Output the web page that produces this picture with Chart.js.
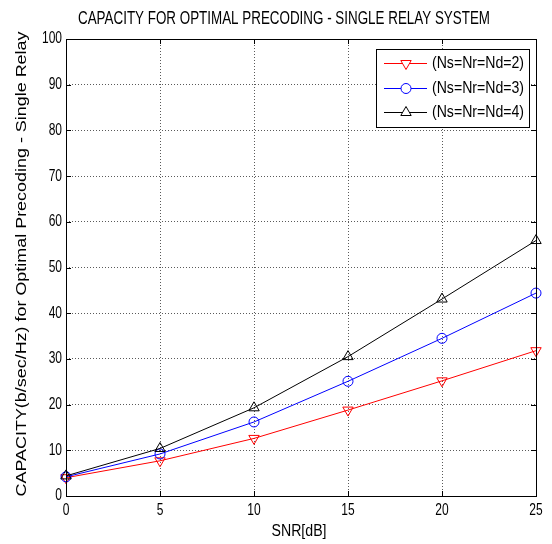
<!DOCTYPE html>
<html>
<head>
<meta charset="utf-8">
<script src="https://cdn.jsdelivr.net/npm/chart.js@4/dist/chart.umd.min.js"></script>
<style>
  html, body { margin: 0; padding: 0; background: #fff; }
  #wrap { width: 552px; height: 544px; }
</style>
</head>
<body>
<div id="wrap"><canvas id="myChart" width="552" height="544"></canvas></div>
<script>
// values
var snr = [0, 5, 10, 15, 20, 25];
var cap2 = [4.0, 7.7, 12.6, 18.8, 25.2, 31.8];
var cap3 = [4.2, 9.2, 16.2, 25.1, 34.5, 44.4];
var cap4 = [4.4, 10.4, 19.3, 30.5, 43.1, 55.9];
var seriesNames = ["(Ns=Nr=Nd=2)", "(Ns=Nr=Nd=3)", "(Ns=Nr=Nd=4)"];

var titleText = "CAPACITY FOR OPTIMAL PRECODING - SINGLE RELAY SYSTEM";
var xTitle = "SNR[dB]";
var yTitle = "CAPACITY(b/sec/Hz) for Optimal Precoding - Single Relay";

var FONT = '"Liberation Sans", Arial, sans-serif';

function pts(ys) {
    return snr.map(function(x, i) { return {x: x, y: ys[i]}; });
}

// text is tall and narrow in the original, so squash it horizontally
function drawText(ctx, txt, x, y, size, opts) {
    opts = opts || {};
    ctx.save();
    ctx.font = size + 'px ' + FONT;
    ctx.fillStyle = '#000';
    ctx.textBaseline = 'middle';
    var w = ctx.measureText(txt).width;
    var sx = opts.width ? opts.width / w : (opts.sx || 0.75);
    ctx.translate(x, y);
    if (opts.rotate) ctx.rotate(opts.rotate);
    ctx.scale(sx, 1);
    ctx.textAlign = opts.align || 'center';
    ctx.fillText(txt, 0, 0);
    ctx.restore();
}

var matlabLook = {
    id: 'matlabLook',
    afterDraw: function(chart) {
        var ctx = chart.ctx;
        var a = chart.chartArea;
        var xs = chart.scales.x, ys = chart.scales.y;

        // box + inward ticks
        ctx.save();
        ctx.strokeStyle = '#000';
        ctx.lineWidth = 1;
        ctx.strokeRect(a.left + 0.5, a.top + 0.5, a.right - a.left, a.bottom - a.top);
        ctx.beginPath();
        xs.ticks.forEach(function(t) {
            var px = Math.round(xs.getPixelForValue(t.value)) + 0.5;
            ctx.moveTo(px, a.bottom); ctx.lineTo(px, a.bottom - 5);
            ctx.moveTo(px, a.top); ctx.lineTo(px, a.top + 5);
        });
        ys.ticks.forEach(function(t) {
            var py = Math.round(ys.getPixelForValue(t.value)) + 0.5;
            ctx.moveTo(a.left, py); ctx.lineTo(a.left + 5, py);
            ctx.moveTo(a.right, py); ctx.lineTo(a.right - 5, py);
        });
        ctx.stroke();
        ctx.restore();

        // tick labels
        xs.ticks.forEach(function(t) {
            drawText(ctx, String(t.value), xs.getPixelForValue(t.value), a.bottom + 15, 16);
        });
        ys.ticks.forEach(function(t) {
            drawText(ctx, String(t.value), a.left - 4, ys.getPixelForValue(t.value), 16, {align: 'right'});
        });

        // titles
        drawText(ctx, titleText, 284, 19.5, 18, {width: 412});
        drawText(ctx, xTitle, 299, 532, 16, {width: 55});
        drawText(ctx, yTitle, 22, 264, 15, {width: 465, rotate: -Math.PI / 2});

        // legend
        var lx = 376, ly = 49, lw = 153, lh = 78;
        ctx.save();
        ctx.fillStyle = '#fff';
        ctx.fillRect(lx, ly, lw, lh);
        ctx.strokeStyle = '#000';
        ctx.lineWidth = 1;
        ctx.strokeRect(lx + 0.5, ly + 0.5, lw, lh);
        var rows = [63, 88, 112];
        chart.data.datasets.forEach(function(ds, i) {
            var ry = rows[i] + 0.5;
            ctx.strokeStyle = ds.borderColor;
            ctx.lineWidth = 1;
            ctx.beginPath();
            ctx.moveTo(384, ry); ctx.lineTo(427, ry);
            ctx.stroke();
            ctx.fillStyle = '#fff';
            Chart.helpers.drawPoint(ctx, {
                pointStyle: ds.pointStyle,
                rotation: ds.pointRotation || 0,
                radius: ds.pointRadius,
                borderWidth: 1
            }, 406, ry);
            drawText(ctx, ds.label, 432, ry, 16, {align: 'left', width: 92});
        });
        ctx.restore();
    }
};

var ctx = document.getElementById("myChart");
var myChart = new Chart(ctx, {
    type: 'line',
    data: {
        datasets: [
            {
                label: seriesNames[0],
                data: pts(cap2),
                borderColor: '#ff0000',
                backgroundColor: 'rgba(0,0,0,0)',
                pointBackgroundColor: 'rgba(0,0,0,0)',
                pointStyle: 'triangle',
                pointRotation: 180,
                pointRadius: 6,
                borderWidth: 1,
                pointBorderWidth: 1,
                order: 3
            },
            {
                label: seriesNames[1],
                data: pts(cap3),
                borderColor: '#0000ff',
                backgroundColor: 'rgba(0,0,0,0)',
                pointBackgroundColor: 'rgba(0,0,0,0)',
                pointStyle: 'circle',
                pointRadius: 5,
                borderWidth: 1,
                pointBorderWidth: 1,
                order: 2
            },
            {
                label: seriesNames[2],
                data: pts(cap4),
                borderColor: '#000000',
                backgroundColor: 'rgba(0,0,0,0)',
                pointBackgroundColor: 'rgba(0,0,0,0)',
                pointStyle: 'triangle',
                pointRadius: 6,
                borderWidth: 1,
                pointBorderWidth: 1,
                order: 1
            }
        ]
    },
    options: {
        responsive: false,
        animation: false,
        clip: false,
        layout: { padding: { left: 66, top: 39, right: 16, bottom: 48 } },
        plugins: {
            legend: { display: false },
            title: { display: false },
            tooltip: { enabled: false }
        },
        elements: { line: { tension: 0 } },
        scales: {
            x: {
                type: 'linear',
                min: 0, max: 25,
                ticks: { stepSize: 5, display: false },
                grid: { color: '#5a5a5a', drawTicks: false },
                border: { display: false, dash: [1, 2] },
                afterFit: function(s) { s.height = 0; }
            },
            y: {
                type: 'linear',
                min: 0, max: 100,
                ticks: { stepSize: 10, display: false },
                grid: { color: '#5a5a5a', drawTicks: false },
                border: { display: false, dash: [1, 2] },
                afterFit: function(s) { s.width = 0; }
            }
        }
    },
    plugins: [matlabLook]
});
</script>
</body>
</html>
